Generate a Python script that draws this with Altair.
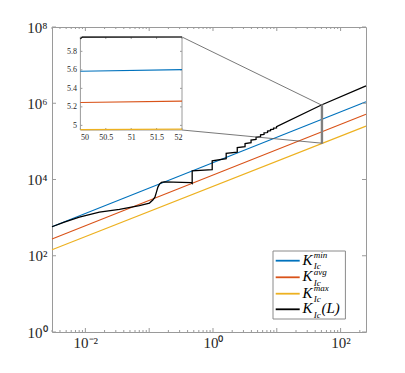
import altair as alt
import pandas as pd

# ---------------- data ----------------
x_domain = [0.003, 250]
y_domain = [1, 1e8]

series_names = ["K_min", "K_avg", "K_max", "K_L"]
series_colors = ["#0072BD", "#D95319", "#EDB120", "#000000"]

line_L = [0.003, 250]
kmin_K = [575, 1.096e6]
kavg_K = [275, 5.13e5]
kmax_K = [144.5, 2.512e5]

black_L = [0.003, 0.00468, 0.00805, 0.0166, 0.0342, 0.0703, 0.101, 0.114, 0.123, 0.130,
           0.137, 0.145, 0.156, 0.173, 0.452, 0.472, 0.472, 0.972, 0.972, 1.61,
           1.61, 2.40, 2.40, 3.18, 3.18, 3.95, 3.95, 4.73, 4.73, 5.56,
           5.56, 6.31, 6.31, 7.16, 7.16, 7.98, 7.98, 8.90, 8.90, 9.91,
           9.91, 50, 250]
black_K = [576, 765, 1034, 1398, 1646, 2070, 2406, 2884, 3457, 4674,
           6321, 7574, 8395, 8650, 8300, 7900, 16900, 18200, 30900, 35300,
           48300, 52300, 68600, 72900, 87300, 92700, 107900, 112500, 127000, 132400,
           147600, 152200, 166500, 170600, 185700, 190200, 204500, 208200, 222500, 226600,
           242100, 899500, 2858000]

zoom_L = [50, 52]
zoom_K = [89950, 899500]

inset_L = [50, 52]
inset_min = [5.585, 5.602]
inset_avg = [5.247, 5.262]
inset_max = [4.954, 4.960]
inset_black_L = [50, 50.04, 52]
inset_black = [5.935, 5.954, 5.955]
inset_x_ticks = [50, 50.5, 51, 51.5, 52]
inset_y_ticks = [5, 5.2, 5.4, 5.6, 5.8]
inset_y_domain = [4.95, 5.955]

x_label_exps = [-2, 0, 2]
x_labels = ["10\u207b\u00b2", "10\u2070", "10\u00b2"]
y_label_exps = [0, 2, 4, 6, 8]
y_labels = ["10\u2070", "10\u00b2", "10\u2074", "10\u2076", "10\u2078"]

x_major_ticks = [0.01, 0.1, 1, 10, 100]
x_minor_ticks = [m * d for d in [0.001, 0.01, 0.1, 1, 10, 100] for m in range(2, 10)
                 if x_domain[0] <= m * d <= x_domain[1]]
y_major_ticks = [1, 1e2, 1e4, 1e6, 1e8]

legend_sups = ["min", "avg", "max", None]

# ---------------- layout / style ----------------
W, H = 314, 305
IX0, IX1, IY0, IY1 = 28.4, 130, 10, 103
FONT = "Liberation Serif"
AX = "#9a9a9a"
TXT = "#262626"


def sup_expr(exps, labels):
    parts = [f"round(log(datum.value)/LN10) == {e} ? '{lab}'" for e, lab in zip(exps, labels)]
    return " : ".join(parts) + " : ''"


xs = alt.Scale(type="log", domain=x_domain, nice=False)
ys = alt.Scale(type="log", domain=y_domain, nice=False)
color = alt.Color("series:N", scale=alt.Scale(domain=series_names, range=series_colors), legend=None)

x_axis = alt.Axis(values=[10.0 ** e for e in x_label_exps], labelExpr=sup_expr(x_label_exps, x_labels),
                  ticks=False, domain=False, grid=False, title=None, orient="bottom",
                  labelFont=FONT, labelFontSize=15, labelColor=TXT, labelPadding=3)
y_axis = alt.Axis(values=[10.0 ** e for e in y_label_exps], labelExpr=sup_expr(y_label_exps, y_labels),
                  ticks=False, domain=False, grid=False, title=None, orient="left",
                  labelFont=FONT, labelFontSize=15, labelColor=TXT, labelPadding=5)

X = lambda f: alt.X(f, scale=xs, axis=x_axis, title=None)
Y = lambda f: alt.Y(f, scale=ys, axis=y_axis, title=None)

rows = []
for name, ks in zip(series_names[:3], [kmin_K, kavg_K, kmax_K]):
    for i, (l, k) in enumerate(zip(line_L, ks)):
        rows.append({"series": name, "L": l, "K": k, "idx": i})
df_lines = pd.DataFrame(rows)
df_black = pd.DataFrame({"series": series_names[3], "L": black_L, "K": black_K,
                         "idx": list(range(len(black_L)))})

lines = alt.Chart(df_lines).mark_line(strokeWidth=1.1).encode(
    x=X("L:Q"), y=Y("K:Q"), color=color, detail="series:N", order="idx:Q")

black = alt.Chart(df_black).mark_line(strokeWidth=1.3).encode(
    x=X("L:Q"), y=Y("K:Q"), color=color, order="idx:Q")


def xtick_layers(vals, length):
    d = pd.DataFrame({"L": vals})
    base = alt.Chart(d).mark_rule(color=AX, strokeWidth=1)
    return [
        base.encode(x=X("L:Q"), y=alt.value(H), y2=alt.value(H - length)),
        base.encode(x=X("L:Q"), y=alt.value(0), y2=alt.value(length)),
    ]


def ytick_layers(vals, length):
    d = pd.DataFrame({"K": vals})
    base = alt.Chart(d).mark_rule(color=AX, strokeWidth=1)
    return [
        base.encode(y=Y("K:Q"), x=alt.value(0), x2=alt.value(length)),
        base.encode(y=Y("K:Q"), x=alt.value(W), x2=alt.value(W - length)),
    ]


tick_layers = xtick_layers(x_major_ticks, 4) + xtick_layers(x_minor_ticks, 2) + ytick_layers(y_major_ticks, 4)

zoom_rect = alt.Chart(pd.DataFrame({"L": [zoom_L[0]], "L1": [zoom_L[1]],
                                    "K": [zoom_K[0]], "K1": [zoom_K[1]]})).mark_rect(
    fillOpacity=0, stroke="#808080", strokeWidth=1.3).encode(
    x=X("L:Q"), x2="L1:Q", y=Y("K:Q"), y2="K1:Q")

conn_top = alt.Chart(pd.DataFrame({"L": [zoom_L[0]], "K": [zoom_K[1]]})).mark_rule(
    color="#555555", strokeWidth=0.8).encode(
    x=X("L:Q"), y=Y("K:Q"), x2=alt.value(IX1), y2=alt.value(IY0))
conn_bot = alt.Chart(pd.DataFrame({"L": [zoom_L[0]], "K": [zoom_K[0]]})).mark_rule(
    color="#555555", strokeWidth=0.8).encode(
    x=X("L:Q"), y=Y("K:Q"), x2=alt.value(IX1), y2=alt.value(IY1))

# ---------------- legend (drawn by hand) ----------------
dummy = pd.DataFrame({"a": [0]})
LX0, LX1, LY0, LY1 = 221, 293.4, 224, 292
row_c = [233.7, 250.3, 266.7, 282.3]
legend_layers = [alt.Chart(dummy).mark_rect(fill="white", stroke="#8a8a8a", strokeWidth=1).encode(
    x=alt.value(LX0), x2=alt.value(LX1), y=alt.value(LY0), y2=alt.value(LY1))]
for c, col, sup in zip(row_c, series_colors, legend_sups):
    legend_layers.append(alt.Chart(dummy).mark_rule(color=col, strokeWidth=1.8).encode(
        x=alt.value(223.7), x2=alt.value(247.7), y=alt.value(c), y2=alt.value(c)))
    legend_layers.append(alt.Chart(dummy).mark_text(
        font=FONT, fontStyle="italic", fontSize=15, align="left", baseline="alphabetic", color="black").encode(
        x=alt.value(250.4), y=alt.value(c + 4), text=alt.value("K")))
    legend_layers.append(alt.Chart(dummy).mark_text(
        font=FONT, fontStyle="italic", fontSize=9, align="left", baseline="alphabetic", color="black").encode(
        x=alt.value(261.8), y=alt.value(c + 8.3), text=alt.value("Ic")))
    if sup is not None:
        legend_layers.append(alt.Chart(dummy).mark_text(
            font=FONT, fontStyle="italic", fontSize=9, align="left", baseline="alphabetic", color="black").encode(
            x=alt.value(261.8), y=alt.value(c - 2.3), text=alt.value(sup)))
    else:
        legend_layers.append(alt.Chart(dummy).mark_text(
            font=FONT, fontStyle="italic", fontSize=15, align="left", baseline="alphabetic", color="black").encode(
            x=alt.value(269.4), y=alt.value(c + 4), text=alt.value("(L)")))

main = alt.layer(lines, black, *tick_layers, zoom_rect, conn_top, conn_bot, *legend_layers)

# ---------------- inset ----------------
ixs = alt.Scale(domain=[inset_L[0], inset_L[1]], range=[IX0, IX1], nice=False, zero=False)
iys = alt.Scale(domain=inset_y_domain, range=[IY1, IY0], nice=False, zero=False)
ix_axis = alt.Axis(values=inset_x_ticks, orient="bottom", offset=IY1 - H,
                   ticks=False, domain=False, grid=False, title=None, format="~g",
                   labelFont=FONT, labelFontSize=8, labelColor=TXT, labelPadding=3)
iy_axis = alt.Axis(values=inset_y_ticks, orient="left", offset=-IX0,
                   ticks=False, domain=False, grid=False, title=None, format="~g",
                   labelFont=FONT, labelFontSize=8, labelColor=TXT, labelPadding=4)
IXe = lambda f: alt.X(f, scale=ixs, axis=ix_axis, title=None)
IYe = lambda f: alt.Y(f, scale=iys, axis=iy_axis, title=None)

irows = []
for name, vs in zip(series_names[:3], [inset_min, inset_avg, inset_max]):
    for i, (l, v) in enumerate(zip(inset_L, vs)):
        irows.append({"series": name, "IL": l, "V": v, "idx": i})
for i, (l, v) in enumerate(zip(inset_black_L, inset_black)):
    irows.append({"series": series_names[3], "IL": l, "V": v, "idx": i})
df_inset = pd.DataFrame(irows)

inset_frame = alt.Chart(pd.DataFrame({"IL": [inset_L[0]], "V": [inset_y_domain[0]]})).mark_rect(
    fill="white", stroke=AX, strokeWidth=1).encode(
    x=alt.value(IX0), x2=alt.value(IX1), y=alt.value(IY0), y2=alt.value(IY1))

inset_lines = alt.Chart(df_inset).mark_line(strokeWidth=1.2).encode(
    x=IXe("IL:Q"), y=IYe("V:Q"), color=color, detail="series:N", order="idx:Q")

dx = pd.DataFrame({"IL": inset_x_ticks})
dy = pd.DataFrame({"V": inset_y_ticks})
itick = [
    alt.Chart(dx).mark_rule(color=AX).encode(x=IXe("IL:Q"), y=alt.value(IY1), y2=alt.value(IY1 - 2)),
    alt.Chart(dx).mark_rule(color=AX).encode(x=IXe("IL:Q"), y=alt.value(IY0), y2=alt.value(IY0 + 2)),
    alt.Chart(dy).mark_rule(color=AX).encode(y=IYe("V:Q"), x=alt.value(IX0), x2=alt.value(IX0 + 2)),
    alt.Chart(dy).mark_rule(color=AX).encode(y=IYe("V:Q"), x=alt.value(IX1), x2=alt.value(IX1 - 2)),
]

inset = alt.layer(inset_frame, *itick, inset_lines)

chart = alt.layer(main, inset).resolve_scale(x="independent", y="independent").properties(
    width=W, height=H,
    autosize=alt.AutoSizeParams(type="none"),
    padding={"left": 44, "top": 19, "right": 30, "bottom": 30},
).configure_view(stroke=AX, strokeWidth=1)

chart.save("out.html", embed_options={"renderer": "svg", "actions": False})
